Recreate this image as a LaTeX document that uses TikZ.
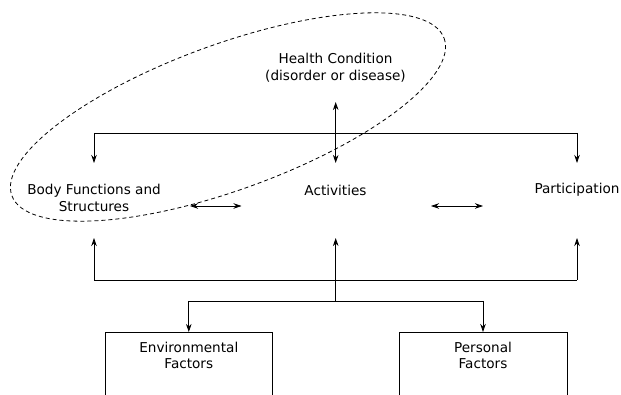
\documentclass[tikz,border=0pt]{standalone}
\usepackage{fontspec}
\setmainfont{DejaVu Sans}
\usetikzlibrary{arrows.meta}
\begin{document}
\begin{tikzpicture}[x=1pt,y=-1pt,
  lbl/.style={align=center,inner sep=0pt,font=\fontsize{13.6}{16.8}\selectfont},
  conn/.style={line width=0.8pt,-{Stealth[length=8pt,width=5.5pt,inset=2.5pt]}},
  dconn/.style={line width=0.8pt,{Stealth[length=8pt,width=5.5pt,inset=2.5pt]}-{Stealth[length=8pt,width=5.5pt,inset=2.5pt]}},
  plain/.style={line width=0.8pt},
  fbox/.style={draw,line width=0.8pt}]
\useasboundingbox (0,0) rectangle (621,395);
\clip (0,0) rectangle (621,395);
% texts
\node[lbl] (hc) at (335.5,68) {Health Condition\\(disorder or disease)};
\node[lbl] (bf) at (94,198) {Body Functions and\\Structures};
\node[lbl] (act) at (335.5,190) {Activities};
\node[lbl] (par) at (577,190) {Participation};
% boxes
\draw[fbox] (105,430) -- (105,332) -- (272.7,332) -- (272.7,430);
\draw[fbox] (399,430) -- (399,332) -- (567,332) -- (567,430);
\node[lbl] (env) at (188.8,355.5) {Environmental\\Factors};
\node[lbl] (pers) at (483,355.5) {Personal\\Factors};
\coordinate (envtop) at (188.8,332);
\coordinate (perstop) at (483,332);
% ellipse
\draw[line width=0.8pt,dash pattern=on 4pt off 3pt,rotate around={20:(228,117)}] (228,117) ellipse (230 and 72.7);
% top bar
\coordinate (tl) at (94,133);
\coordinate (tr) at (577,133);
\coordinate (bfin) at (94,163);
\coordinate (parin) at (577,163);
\draw[plain] (tl) -- (tr);
\draw[conn] (tl) -- (bfin);
\draw[conn] (tr) -- (parin);
\coordinate (hcout) at (335.7,102);
\coordinate (actin) at (335.7,163);
\draw[dconn] (hcout) -- (actin);
% horizontal double arrows
\coordinate (bfr) at (190,206);
\coordinate (actl) at (241.5,206);
\coordinate (actr) at (431,206);
\coordinate (parl) at (483,206);
\draw[dconn] (bfr) -- (actl);
\draw[dconn] (actr) -- (parl);
% bottom bar
\coordinate (bl) at (94,280);
\coordinate (br) at (577,280);
\coordinate (bfbot) at (94,238);
\coordinate (actbot) at (335.7,238);
\coordinate (parbot) at (577,238);
\draw[plain] (bl) -- (br);
\draw[conn] (bl) -- (bfbot);
\draw[conn] (br) -- (parbot);
\coordinate (split) at (335.7,301);
\draw[conn] (split) -- (actbot);
\coordinate (envbr) at (188.8,301);
\coordinate (persbr) at (483,301);
\draw[plain] (envbr) -- (persbr);
\draw[conn] (envbr) -- (envtop);
\draw[conn] (persbr) -- (perstop);
\end{tikzpicture}
\end{document}
